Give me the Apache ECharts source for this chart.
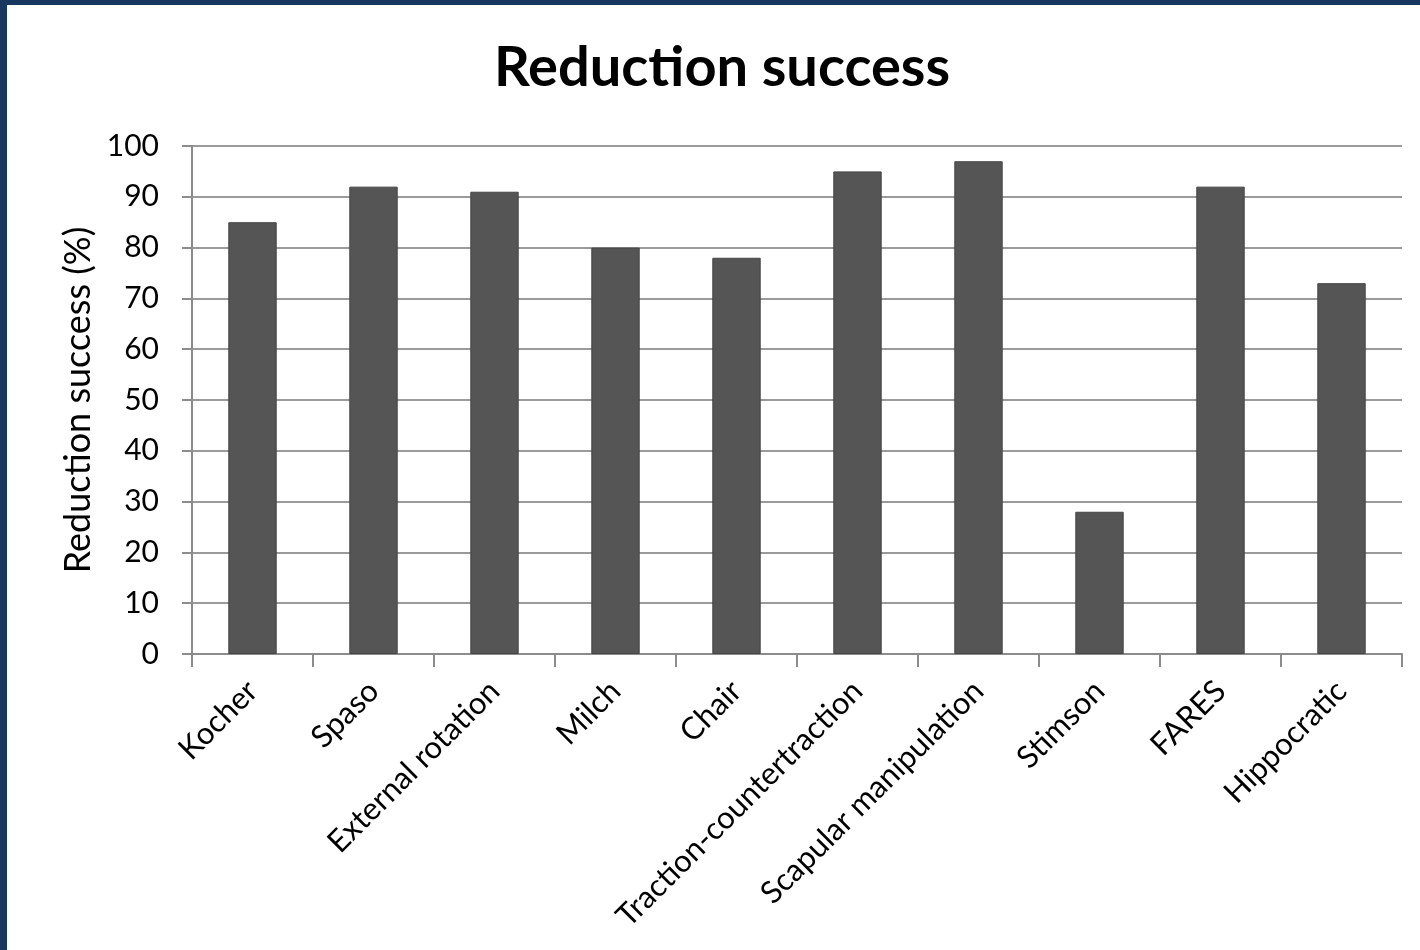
<!DOCTYPE html>
<html>
<head>
<meta charset="utf-8">
<script src="https://cdn.jsdelivr.net/npm/echarts@6/dist/echarts.min.js"></script>
<style>
html,body{margin:0;padding:0;background:#17375e;width:1420px;height:950px;overflow:hidden;}
#chart{position:absolute;left:7px;top:5px;width:1413px;height:945px;background:#ffffff;}
</style>
</head>
<body>
<div id="chart"></div>
<script>
const categories = ['Kocher','Spaso','External rotation','Milch','Chair','Traction-countertraction','Scapular manipulation','Stimson','FARES','Hippocratic'];
const successValues = [85, 92, 91, 80, 78, 95, 97, 28, 92, 73];
const yTicks = {min: 0, max: 100, interval: 10};

const chart = echarts.init(document.getElementById('chart'));
chart.setOption({
  animation: false,
  backgroundColor: '#ffffff',
  title: {
    text: 'Reduction success',
    left: 710,
    textAlign: 'center',
    top: 30,
    textStyle: {fontFamily: 'Lato', fontWeight: 'bold', fontSize: 56, color: '#000'}
  },
  grid: {left: 185, right: 18, top: 141, bottom: 296},
  xAxis: {
    type: 'category',
    data: categories,
    axisLine: {lineStyle: {color: '#8c8c8c', width: 2}},
    axisTick: {show: true, length: 13, lineStyle: {color: '#8c8c8c', width: 2}},
    axisLabel: {rotate: 45, margin: 32, fontFamily: 'Lato', fontSize: 31, color: '#000', interval: 0}
  },
  yAxis: {
    type: 'value',
    min: yTicks.min, max: yTicks.max, interval: yTicks.interval,
    name: 'Reduction success (%)',
    nameLocation: 'middle',
    nameGap: 95,
    nameTextStyle: {fontFamily: 'Lato', fontSize: 36, color: '#000'},
    axisLine: {show: true, lineStyle: {color: '#8c8c8c', width: 2}},
    axisTick: {show: true, length: 10, lineStyle: {color: '#8c8c8c', width: 2}},
    axisLabel: {margin: 33, fontFamily: 'Lato', fontSize: 30, color: '#000'},
    splitLine: {lineStyle: {color: '#9a9a9a', width: 2}}
  },
  series: [{
    type: 'bar',
    data: successValues,
    barWidth: '40%',
    itemStyle: {color: '#555555', borderColor: '#454545', borderWidth: 1}
  }]
});
</script>
</body>
</html>
